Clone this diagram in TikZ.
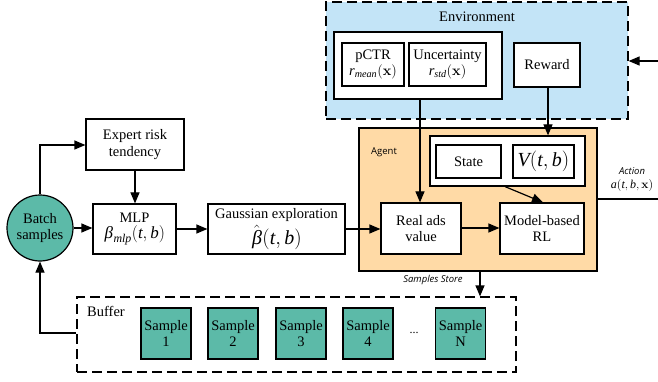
\documentclass[tikz,border=0pt]{standalone}
\usepackage{mathspec}
\setmainfont{Liberation Serif}
\setmathsfont(Digits,Latin,Greek){Liberation Serif}
\newfontfamily\lblsans{Open Sans}
\usetikzlibrary{arrows.meta}
\definecolor{envblue}{HTML}{C3E4F7}
\definecolor{agentorange}{HTML}{FFDAA6}
\definecolor{teal1}{HTML}{5CBAA8}
\begin{document}
\begin{tikzpicture}[x=1pt,y=-1pt,
  line width=1.2pt,
  box/.style={draw,fill=white,align=center,inner sep=1pt,font=\fontsize{14.5}{16.5}\selectfont},
  samplebox/.style={draw,fill=teal1,align=center,inner sep=1pt,minimum width=50pt,minimum height=51pt,font=\fontsize{14.5}{16.5}\selectfont},
  dashbox/.style={draw,dash pattern=on 10pt off 5pt},
  arr/.style={-{Triangle[length=11pt,width=9pt]}},
  small/.style={font=\lblsans\fontsize{9.5}{11}\selectfont},
  smallit/.style={font=\lblsans\itshape\fontsize{9.5}{11}\selectfont}
]
\useasboundingbox (0,0) rectangle (658,382);
% Environment
\node[dashbox,fill=envblue,minimum width=302pt,minimum height=117pt] (env) at (477,60.5) {};
\node[font=\fontsize{14.5}{16.5}\selectfont] (envlbl) at (477,17) {Environment};
\node[box,minimum width=168pt,minimum height=67pt] (obs) at (418,65.5) {};
\node[box,minimum width=62pt,minimum height=43pt] (pctr) at (373,64.5) {pCTR\\[-1pt]$r_{mean}(\mathbf{x})$};
\node[box,minimum width=77pt,minimum height=43pt] (unc) at (447.5,64.5) {Uncertainty\\[-1pt]$r_{std}(\mathbf{x})$};
\node[box,minimum width=66pt,minimum height=44pt] (reward) at (547,65) {Reward};
% Agent
\node[draw,fill=agentorange,minimum width=238pt,minimum height=143pt] (agent) at (478,199.5) {};
\node[small] (agentlbl) at (384,152) {Agent};
\node[box,minimum width=155pt,minimum height=50pt] (statec) at (507.5,161) {};
\node[box,minimum width=65pt,minimum height=33pt] (state) at (468.5,161.5) {State};
\node[box,minimum width=61pt,minimum height=33pt,font=\fontsize{20}{22}\selectfont] (vtb) at (543.5,161.5) {$V(t,b)$};
\node[box,minimum width=80pt,minimum height=51pt] (real) at (421,228.5) {Real ads\\value};
\node[box,minimum width=84pt,minimum height=51pt] (mbrl) at (542,228.5) {Model-based\\RL};
% left part
\node[draw,circle,fill=teal1,minimum size=66pt,inner sep=0pt,align=center,font=\fontsize{14.5}{16.5}\selectfont] (batch) at (40,228) {Batch\\samples};
\node[box,minimum width=98pt,minimum height=51pt] (expert) at (135,144.5) {Expert risk\\tendency};
\node[box,minimum width=83pt,minimum height=50pt] (mlp) at (134.5,229) {MLP\\[0pt]{\fontsize{17}{17}\selectfont$\beta_{mlp}(t,b)$}};
\node[box,minimum width=137pt,minimum height=50pt] (gauss) at (276.5,229) {Gaussian exploration\\[2pt]{\fontsize{20}{20}\selectfont$\hat{\beta}(t,b)$}};
% Buffer
\node[dashbox,minimum width=439pt,minimum height=75pt] (buffer) at (296.5,334.5) {};
\node[font=\fontsize{14.5}{16.5}\selectfont] (bufferlbl) at (106,311) {Buffer};
\node[samplebox] (s1) at (166,333.5) {Sample\\1};
\node[samplebox] (s2) at (233,333.5) {Sample\\2};
\node[samplebox] (s3) at (301,333.5) {Sample\\3};
\node[samplebox] (s4) at (368,333.5) {Sample\\4};
\node[font=\fontsize{12}{14}\selectfont] (dots) at (414,333) {...};
\node[samplebox] (sN) at (460.5,333.5) {Sample\\N};
% labels
\node[smallit] (sslbl) at (433,280) {Samples Store};
\node[smallit] (actlbl) at (632,171) {Action};
\node[font=\fontsize{12}{13}\selectfont] (actmath) at (632,186) {$a(t,b,\mathbf{x})$};
% coordinates
\coordinate (actout) at (658,199);
\coordinate (envin) at (658,61);
\coordinate (upturn) at (40,145);
\coordinate (downturn) at (40,333);
% connectors
\draw[arr] (batch.north) -- (upturn) -- (expert.west |- upturn);
\draw[arr] (expert.south) -- (mlp.north -| expert.south);
\draw[arr] (batch.east) -- (mlp.west |- batch.east);
\draw[arr] (mlp.east) -- (gauss.west);
\draw[arr] (gauss.east) -- (real.west |- gauss.east);
\draw[arr] (real.east |- 0,228) -- (mbrl.west |- 0,228);
\draw[arr] (obs.south -| 420,0) -- (real.north -| 420,0);
\draw[arr] (reward.south -| 548,0) -- (statec.north -| 548,0);
\draw[arr] (statec.south -| 505,0) -- (mbrl.north -| 543,0);
\draw (agent.east |- actout) -- (actout);
\draw[arr] (envin) -- (env.east |- envin);
\draw[arr] (agent.south -| 480,0) -- (buffer.north -| 480,0);
\draw[arr] (buffer.west |- downturn) -- (downturn) -- (batch.south);
\end{tikzpicture}
\end{document}
